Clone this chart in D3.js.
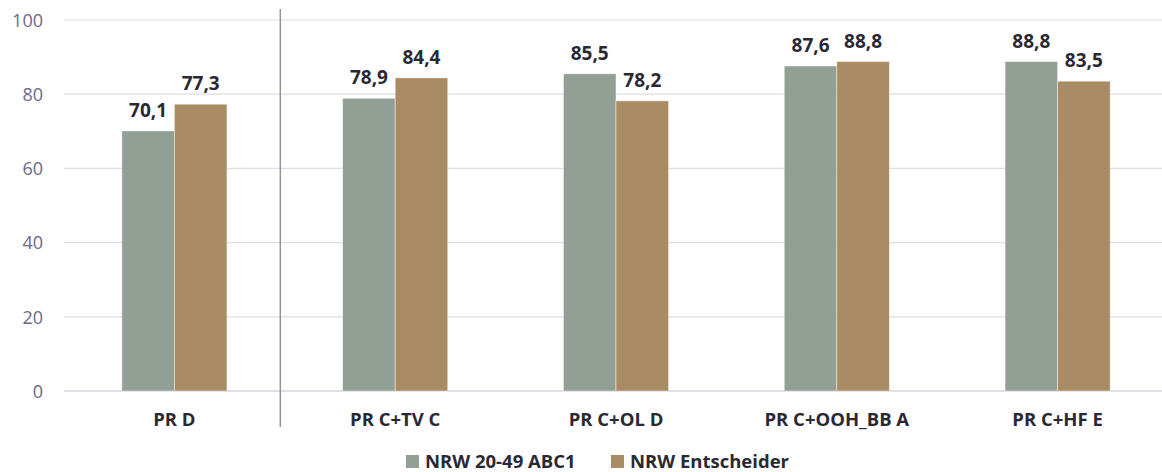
<!DOCTYPE html>
<html>
<head>
<meta charset="utf-8">
<script src="https://cdn.jsdelivr.net/npm/d3@7"></script>
<style>
  html, body { margin: 0; padding: 0; background: #fff; }
  svg { display: block; font-family: "Open Sans", "Noto Sans", sans-serif; }
</style>
</head>
<body>
<svg id="chart" width="1162" height="472"></svg>
<script>
// Categories and series
const categories = ["PR D", "PR C+TV C", "PR C+OL D", "PR C+OOH_BB A", "PR C+HF E"];
const seriesNames = ["NRW 20-49 ABC1", "NRW Entscheider"];
const abc1Values = [70.1, 78.9, 85.5, 87.6, 88.8];
const entscheiderValues = [77.3, 84.4, 78.2, 88.8, 83.5];
const yTicks = [0, 20, 40, 60, 80, 100];

const colors = ["#929f95", "#a98b64"];
const seriesValues = [abc1Values, entscheiderValues];

const svg = d3.select("#chart");
const W = 1162, H = 472;
const plot = { left: 64, right: 1168, top: 20, bottom: 391 };

const x = d3.scaleBand().domain(categories).range([plot.left, plot.right]).paddingInner(0).paddingOuter(0);
const y = d3.scaleLinear().domain([0, 100]).range([plot.bottom, plot.top]);
const groupWidth = x.bandwidth() * 0.476;
const xs = d3.scaleBand().domain(seriesNames).range([0, groupWidth]);

// Gridlines
svg.append("g").selectAll("line").data(yTicks).join("line")
  .attr("x1", plot.left).attr("x2", W)
  .attr("y1", d => y(d)).attr("y2", d => y(d))
  .attr("stroke", d => d === 0 ? "#d6d5de" : "#dedce6")
  .attr("stroke-width", d => d === 0 ? 1.6 : 1.2);

// Y axis labels
const yAxis = d3.axisLeft(y).tickValues(yTicks).tickSize(0).tickPadding(0);
const yg = svg.append("g").attr("transform", `translate(${43},0)`).call(yAxis);
yg.select(".domain").remove();
yg.selectAll("text")
  .attr("fill", "#6a6a86").attr("font-size", 18).attr("dy", "0.35em")
  .attr("font-family", "'Open Sans', sans-serif");

// Separator after the first group
const sepX = x(categories[1]) - 4.5;
svg.append("line")
  .attr("x1", sepX).attr("x2", sepX).attr("y1", 9).attr("y2", 427)
  .attr("stroke", "#8c9a8e").attr("stroke-width", 1.5);

// Bars
const groups = svg.append("g").selectAll("g").data(categories).join("g")
  .attr("transform", d => `translate(${x(d) + (x.bandwidth() - groupWidth) / 2},0)`);

groups.each(function(cat, i) {
  const g = d3.select(this);
  seriesNames.forEach((s, j) => {
    const v = seriesValues[j][i];
    g.append("rect")
      .attr("x", xs(s)).attr("width", xs.bandwidth())
      .attr("y", y(v)).attr("height", y(0) - y(v))
      .attr("fill", colors[j])
      .attr("stroke", "rgba(255,255,255,0.55)").attr("stroke-width", 0.8);
    g.append("text")
      .attr("x", xs(s) + xs.bandwidth() / 2)
      .attr("y", y(v) - 14)
      .attr("text-anchor", "middle")
      .attr("font-size", 19).attr("font-weight", 700)
      .attr("fill", "#2a2933")
      .text(d3.format(".1f")(v).replace(".", ","));
  });
});

// Category labels
const xAxis = d3.axisBottom(x).tickSize(0).tickPadding(0);
const xg = svg.append("g").attr("transform", `translate(0,${426})`).call(xAxis);
xg.select(".domain").remove();
xg.selectAll("text")
  .attr("y", 0).attr("dy", 0)
  .attr("fill", "#2a2933").attr("font-size", 18.5).attr("font-weight", 700)
  .attr("font-family", "'Open Sans', sans-serif");

// Legend
const legendItems = [{ name: seriesNames[0], x: 406 }, { name: seriesNames[1], x: 611 }];
const lg = svg.append("g").selectAll("g").data(legendItems).join("g")
  .attr("transform", d => `translate(${d.x},0)`);
lg.append("rect").attr("x", 0).attr("y", 455).attr("width", 13).attr("height", 13)
  .attr("fill", (d, i) => colors[i]);
lg.append("text").attr("x", 19).attr("y", 468)
  .attr("font-size", 18.5).attr("font-weight", 700).attr("fill", "#2a2933")
  .text(d => d.name);
</script>
</body>
</html>
